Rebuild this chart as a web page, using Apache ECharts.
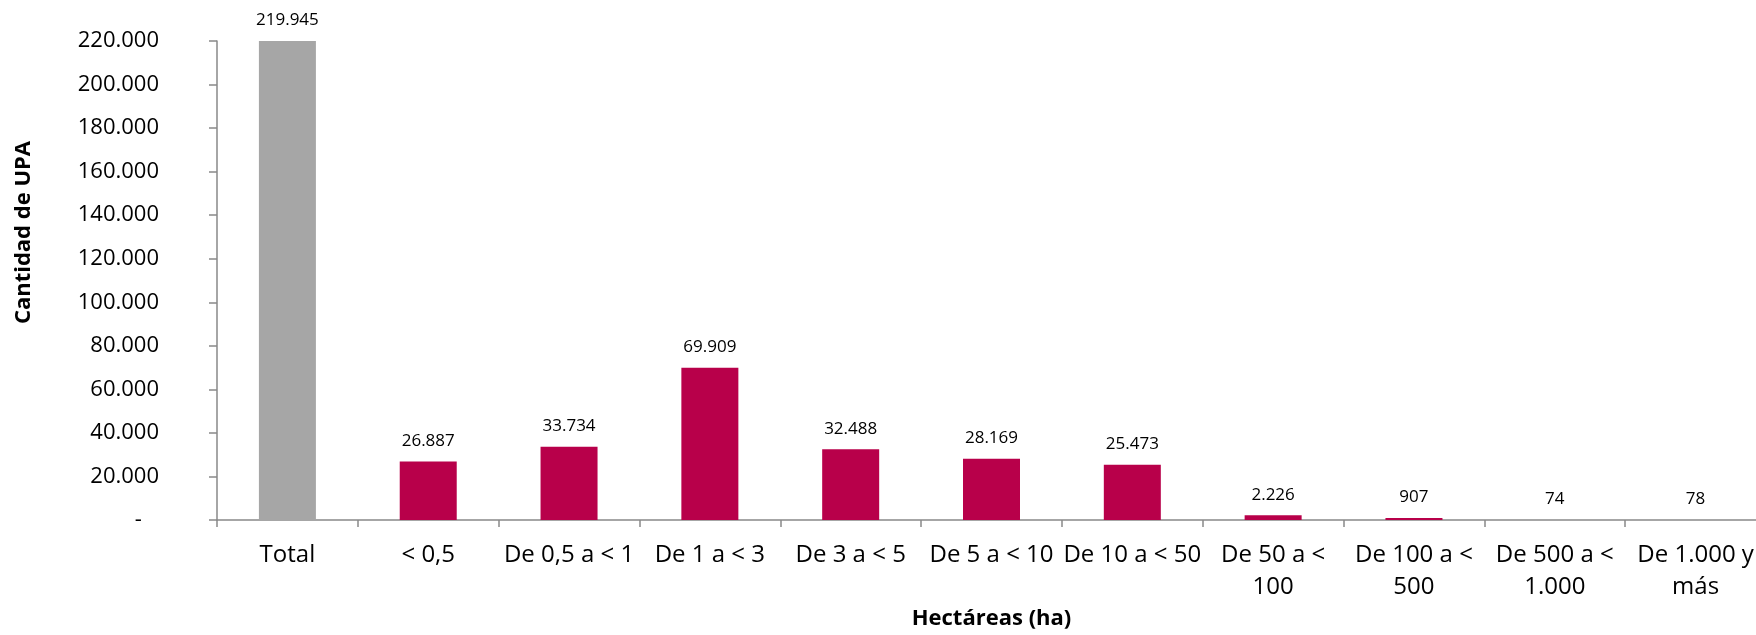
<!DOCTYPE html>
<html>
<head>
<meta charset="utf-8">
<script src="https://cdn.jsdelivr.net/npm/echarts@6/dist/echarts.min.js"></script>
<style>
  html, body { margin: 0; padding: 0; background: #fff; overflow: hidden; }
  #chart { width: 1766px; height: 635px; }
</style>
</head>
<body>
<div id="chart"></div>
<script>
const categories = ['Total', '< 0,5', 'De 0,5 a < 1', 'De 1 a < 3', 'De 3 a < 5', 'De 5 a < 10', 'De 10 a < 50', 'De 50 a < 100', 'De 100 a < 500', 'De 500 a < 1.000', 'De 1.000 y más'];
const values = [219945, 26887, 33734, 69909, 32488, 28169, 25473, 2226, 907, 74, 78];
const yTicks = { min: 0, max: 220000, interval: 20000 };
const yTitle = 'Cantidad de UPA';
const xTitle = 'Hectáreas (ha)';

const GRAY = '#A6A6A6';
const MAGENTA = '#B8004A';
const AXIS = '#898989';
const FONT = '"Open Sans", "Noto Sans", sans-serif';

function fmt(v) {
  if (v === 0) return '-   ';
  return String(Math.round(v)).replace(/\B(?=(\d{3})+(?!\d))/g, '.');
}
function wrap(s) {
  if (s.length <= 12) return s;
  const i = s.lastIndexOf(' ');
  return s.slice(0, i) + '\n' + s.slice(i + 1);
}

const chart = echarts.init(document.getElementById('chart'), null, { renderer: 'canvas' });
chart.setOption({
  animation: false,
  backgroundColor: '#fff',
  textStyle: { fontFamily: FONT, color: '#000' },
  grid: { left: 217, top: 41, bottom: 106, right: 0, containLabel: false },
  xAxis: {
    type: 'category',
    data: categories,
    name: xTitle,
    nameLocation: 'middle',
    nameGap: 84,
    nameTextStyle: { fontFamily: FONT, fontWeight: 'bold', fontSize: 22, color: '#000' },
    axisLine: { lineStyle: { color: AXIS, width: 1.5 } },
    axisTick: { show: true, length: 7, lineStyle: { color: AXIS, width: 1.5 } },
    axisLabel: {
      fontFamily: FONT, fontSize: 24, color: '#000', margin: 19, lineHeight: 32,
      interval: 0, formatter: wrap
    }
  },
  yAxis: {
    type: 'value',
    min: yTicks.min,
    max: yTicks.max,
    interval: yTicks.interval,
    name: yTitle,
    nameLocation: 'middle',
    nameGap: 182,
    nameTextStyle: { fontFamily: FONT, fontWeight: 'bold', fontSize: 22, color: '#000', padding: [0, 0, 0, 96] },
    axisLine: { show: true, lineStyle: { color: AXIS, width: 1.5 } },
    axisTick: { show: true, length: 8, lineStyle: { color: AXIS, width: 1.5 } },
    splitLine: { show: false },
    axisLabel: { fontFamily: FONT, fontSize: 22, color: '#000', margin: 58, formatter: fmt }
  },
  series: [{
    type: 'bar',
    barWidth: 57,
    data: values.map((v, i) => ({ value: v, itemStyle: { color: i === 0 ? GRAY : MAGENTA } })),
    label: {
      show: true, position: 'top', distance: 12,
      fontFamily: FONT, fontSize: 17, color: '#000',
      formatter: p => fmt(p.value)
    }
  }]
});
</script>
</body>
</html>
